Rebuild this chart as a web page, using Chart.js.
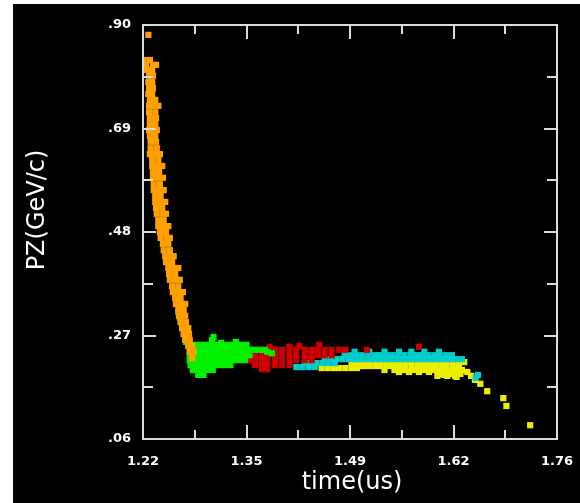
<!DOCTYPE html>
<html>
<head>
<meta charset="utf-8">
<title>PZ vs time</title>
<script src="https://cdn.jsdelivr.net/npm/chart.js@4/dist/chart.umd.min.js"></script>
<style>
    html, body { margin: 0; padding: 0; background: #fff; }
    #wrap { position: absolute; left: 13px; top: 4px; width: 567px; height: 499px; background: #000; }
</style>
</head>
<body>
<div id="wrap"><canvas id="pz-chart" width="567" height="499"></canvas></div>
<script>
// Axis ranges and ticks
const xRange = [1.22, 1.76];
const yRange = [0.06, 0.90];
const xMajorTicks = [1.22, 1.355, 1.49, 1.625, 1.76];
const xTickLabels = ['1.22', '1.35', '1.49', '1.62', '1.76'];
const xMinorTicks = [1.2875, 1.4225, 1.5575, 1.6925];
const yMajorTicks = [0.06, 0.27, 0.48, 0.69, 0.90];
const yTickLabels = ['.06', '.27', '.48', '.69', '.90'];
const yMinorTicks = [0.165, 0.375, 0.585, 0.795];

// Point clouds, [time, PZ]
const orangePts = [
    [1.227,0.880],
    [1.221,0.829],[1.229,0.829],
    [1.224,0.819],[1.233,0.819],[1.237,0.819],
    [1.225,0.809],[1.232,0.809],
    [1.228,0.797],[1.233,0.797],
    [1.227,0.784],[1.232,0.784],
    [1.228,0.772],[1.233,0.772],
    [1.227,0.760],[1.232,0.760],
    [1.229,0.748],[1.236,0.748],
    [1.228,0.736],[1.234,0.736],[1.240,0.736],
    [1.228,0.723],[1.236,0.723],
    [1.229,0.711],[1.237,0.711],
    [1.229,0.699],[1.236,0.699],
    [1.228,0.687],[1.234,0.687],[1.238,0.687],
    [1.229,0.675],[1.236,0.675],
    [1.230,0.663],[1.237,0.663],
    [1.230,0.650],[1.238,0.650],
    [1.229,0.638],[1.236,0.638],[1.242,0.638],
    [1.232,0.626],[1.240,0.626],
    [1.232,0.614],[1.238,0.614],[1.245,0.614],
    [1.233,0.602],[1.241,0.602],
    [1.233,0.590],[1.240,0.590],[1.246,0.590],
    [1.234,0.577],[1.242,0.577],
    [1.234,0.565],[1.241,0.565],[1.247,0.565],
    [1.236,0.553],[1.243,0.553],
    [1.236,0.541],[1.242,0.541],[1.249,0.541],
    [1.237,0.529],[1.245,0.529],
    [1.238,0.517],[1.246,0.517],[1.250,0.517],
    [1.240,0.504],[1.247,0.504],
    [1.240,0.492],[1.246,0.492],[1.253,0.492],
    [1.242,0.480],[1.250,0.480],
    [1.243,0.468],[1.251,0.468],[1.255,0.468],
    [1.246,0.456],[1.253,0.456],
    [1.247,0.443],[1.255,0.443],
    [1.249,0.431],[1.256,0.431],[1.260,0.431],
    [1.250,0.419],[1.258,0.419],
    [1.253,0.407],[1.260,0.407],[1.266,0.407],
    [1.254,0.395],[1.262,0.395],
    [1.255,0.383],[1.263,0.383],[1.268,0.383],
    [1.258,0.370],[1.266,0.370],
    [1.259,0.358],[1.267,0.358],[1.272,0.358],
    [1.262,0.346],[1.269,0.346],
    [1.263,0.334],[1.271,0.334],[1.275,0.334],
    [1.266,0.322],[1.273,0.322],
    [1.267,0.310],[1.275,0.310],
    [1.269,0.297],[1.276,0.297],
    [1.271,0.285],[1.279,0.285],
    [1.273,0.273],[1.280,0.273],
    [1.275,0.261],[1.281,0.261],
    [1.279,0.249],[1.284,0.249],
    [1.281,0.237],[1.286,0.237],
    [1.284,0.224]
];

const greenPts = [
    [1.266,0.318],[1.268,0.306],[1.271,0.293],[1.276,0.281],[1.279,0.269],[1.276,0.257],
    [1.310,0.261],[1.312,0.267],[1.322,0.255],[1.341,0.257],[1.382,0.237],[1.388,0.234],
    [1.284,0.251],[1.290,0.251],[1.297,0.251],[1.303,0.251],[1.310,0.251],[1.316,0.251],
    [1.322,0.251],[1.329,0.251],[1.336,0.251],[1.342,0.251],[1.349,0.251],[1.355,0.251],
    [1.281,0.241],[1.288,0.241],[1.294,0.241],[1.301,0.241],[1.307,0.241],[1.314,0.241],
    [1.320,0.241],[1.327,0.241],[1.333,0.241],[1.340,0.241],[1.346,0.241],[1.353,0.241],
    [1.359,0.241],[1.366,0.241],[1.372,0.241],[1.379,0.241],
    [1.281,0.230],[1.288,0.230],[1.294,0.230],[1.301,0.230],[1.307,0.230],[1.314,0.230],
    [1.320,0.230],[1.327,0.230],[1.333,0.230],[1.340,0.230],[1.346,0.230],[1.353,0.230],
    [1.359,0.230],
    [1.281,0.220],[1.288,0.220],[1.294,0.220],[1.301,0.220],[1.307,0.220],[1.314,0.220],
    [1.320,0.220],[1.327,0.220],[1.333,0.220],[1.340,0.220],[1.346,0.220],[1.353,0.220],
    [1.282,0.210],[1.289,0.210],[1.295,0.210],[1.302,0.210],[1.308,0.210],[1.315,0.210],
    [1.321,0.210],[1.328,0.210],[1.334,0.210],
    [1.285,0.200],[1.292,0.200],[1.298,0.200],[1.305,0.200],[1.311,0.200],
    [1.292,0.190],[1.299,0.190]
];

const redPts = [
    [1.392,0.241],[1.401,0.241],[1.411,0.241],[1.420,0.241],[1.431,0.241],[1.440,0.241],
    [1.448,0.241],[1.457,0.241],[1.466,0.241],[1.476,0.241],[1.484,0.241],
    [1.366,0.230],[1.375,0.230],[1.382,0.230],[1.392,0.230],[1.401,0.230],[1.411,0.230],
    [1.420,0.230],[1.431,0.230],[1.440,0.230],[1.448,0.230],[1.457,0.230],[1.466,0.230],
    [1.359,0.220],[1.367,0.220],[1.375,0.220],[1.382,0.220],[1.392,0.220],[1.401,0.220],
    [1.411,0.220],[1.420,0.220],[1.431,0.220],[1.440,0.220],
    [1.366,0.210],[1.375,0.210],[1.382,0.210],[1.392,0.210],[1.401,0.210],[1.411,0.210],
    [1.375,0.202],[1.382,0.202],
    [1.424,0.249],[1.450,0.251],[1.411,0.247],[1.385,0.247],[1.512,0.241],[1.580,0.247]
];

const cyanPts = [
    [1.420,0.206],[1.428,0.206],[1.436,0.206],[1.444,0.206],
    [1.431,0.214],[1.439,0.214],[1.446,0.214],[1.454,0.214],[1.462,0.214],[1.470,0.214],
    [1.457,0.222],[1.465,0.222],[1.472,0.222],[1.480,0.222],[1.488,0.222],[1.496,0.222],
    [1.503,0.222],[1.511,0.222],[1.519,0.222],[1.527,0.222],[1.535,0.222],[1.542,0.222],
    [1.550,0.222],[1.558,0.222],[1.566,0.222],[1.574,0.222],[1.581,0.222],[1.589,0.222],
    [1.597,0.222],[1.605,0.222],[1.613,0.222],[1.620,0.222],[1.628,0.222],[1.636,0.222],
    [1.483,0.230],[1.490,0.230],[1.498,0.230],[1.506,0.230],[1.514,0.230],[1.522,0.230],
    [1.529,0.230],[1.537,0.230],[1.545,0.230],[1.553,0.230],[1.561,0.230],[1.569,0.230],
    [1.576,0.230],[1.584,0.230],[1.592,0.230],[1.600,0.230],[1.607,0.230],[1.615,0.230],
    [1.623,0.230],
    [1.496,0.237],[1.515,0.237],[1.535,0.237],[1.554,0.237],[1.570,0.237],[1.587,0.237],
    [1.606,0.237],
    [1.657,0.190],[1.654,0.184]
];

const yellowPts = [
    [1.453,0.204],[1.461,0.204],[1.469,0.204],[1.476,0.204],[1.484,0.204],[1.492,0.204],
    [1.499,0.204],
    [1.507,0.208],[1.515,0.208],[1.523,0.208],[1.530,0.208],[1.538,0.208],[1.546,0.208],
    [1.554,0.208],[1.562,0.208],[1.570,0.208],[1.578,0.208],[1.585,0.208],[1.593,0.208],
    [1.601,0.208],[1.609,0.208],[1.616,0.208],[1.624,0.208],[1.632,0.208],
    [1.492,0.216],[1.499,0.216],[1.507,0.216],[1.515,0.216],[1.523,0.216],[1.530,0.216],
    [1.538,0.216],[1.546,0.216],[1.554,0.216],[1.562,0.216],[1.570,0.216],[1.578,0.216],
    [1.585,0.216],[1.593,0.216],[1.601,0.216],[1.609,0.216],[1.616,0.216],[1.624,0.216],
    [1.632,0.216],[1.639,0.216],
    [1.535,0.200],[1.548,0.200],[1.561,0.200],[1.574,0.200],[1.587,0.200],[1.600,0.200],
    [1.613,0.200],[1.626,0.200],[1.636,0.200],
    [1.554,0.196],[1.567,0.196],[1.580,0.196],[1.593,0.196],[1.606,0.196],[1.619,0.196],
    [1.629,0.196],
    [1.606,0.192],[1.621,0.192],[1.634,0.192],
    [1.604,0.188],[1.617,0.188],[1.627,0.188],
    [1.643,0.196],[1.648,0.188],[1.653,0.180],[1.660,0.172],[1.669,0.157],[1.690,0.143],
    [1.694,0.127],[1.725,0.088],[1.629,0.186],[1.613,0.190]
];

// Frame, inward ticks, labels and axis titles
const frameAndTicks = {
    id: 'frameAndTicks',
    afterDatasetsDraw(chart) {
        const { ctx, chartArea: a, scales } = chart;
        const xs = scales.x, ys = scales.y;
        ctx.save();
        ctx.strokeStyle = '#dcdcdc';
        ctx.lineWidth = 2;
        ctx.strokeRect(a.left, a.top, a.right - a.left, a.bottom - a.top);

        ctx.beginPath();
        const xTick = (v, len) => {
            const px = Math.round(xs.getPixelForValue(v));
            ctx.moveTo(px, a.bottom); ctx.lineTo(px, a.bottom - len);
            ctx.moveTo(px, a.top); ctx.lineTo(px, a.top + len);
        };
        const yTick = (v, len) => {
            const py = Math.round(ys.getPixelForValue(v));
            ctx.moveTo(a.left, py); ctx.lineTo(a.left + len, py);
            ctx.moveTo(a.right, py); ctx.lineTo(a.right - len, py);
        };
        xMajorTicks.forEach(v => xTick(v, 14));
        xMinorTicks.forEach(v => xTick(v, 9));
        yMajorTicks.forEach(v => yTick(v, 13));
        yMinorTicks.forEach(v => yTick(v, 10));
        ctx.stroke();

        ctx.fillStyle = '#fff';
        ctx.font = 'bold 13px "DejaVu Sans"';
        ctx.textBaseline = 'middle';
        ctx.textAlign = 'center';
        xMajorTicks.forEach((v, i) => ctx.fillText(xTickLabels[i], xs.getPixelForValue(v), a.bottom + 23));
        ctx.textAlign = 'right';
        yMajorTicks.forEach((v, i) => ctx.fillText(yTickLabels[i], a.left - 12, ys.getPixelForValue(v)));

        ctx.font = '24px "DejaVu Sans"';
        ctx.textAlign = 'center';
        ctx.fillText('time(us)', (a.left + a.right) / 2 + 2, a.bottom + 44);
        ctx.translate(25, 206);
        ctx.rotate(-Math.PI / 2);
        ctx.fillText('PZ(GeV/c)', 0, 0);
        ctx.restore();
    }
};

function cloud(label, pts, color) {
    return {
        label: label,
        data: pts,
        backgroundColor: color,
        pointBackgroundColor: color,
        pointStyle: 'rect',
        pointRadius: 4.4,
        pointBorderWidth: 0,
        borderWidth: 0
    };
}

new Chart(document.getElementById('pz-chart'), {
    type: 'scatter',
    data: {
        datasets: [
            cloud('orange', orangePts, 'rgb(255, 160, 0)'),
            cloud('green', greenPts, 'rgb(0, 240, 0)'),
            cloud('red', redPts, 'rgb(205, 0, 0)'),
            cloud('cyan', cyanPts, 'rgb(0, 205, 205)'),
            cloud('yellow', yellowPts, 'rgb(238, 238, 0)')
        ]
    },
    options: {
        responsive: false,
        animation: false,
        layout: { padding: { left: 130, top: 21, right: 23, bottom: 64 } },
        plugins: {
            legend: { display: false },
            tooltip: { enabled: false }
        },
        scales: {
            x: { type: 'linear', display: false, min: xRange[0], max: xRange[1] },
            y: { type: 'linear', display: false, min: yRange[0], max: yRange[1] }
        }
    },
    plugins: [frameAndTicks]
});
</script>
</body>
</html>
